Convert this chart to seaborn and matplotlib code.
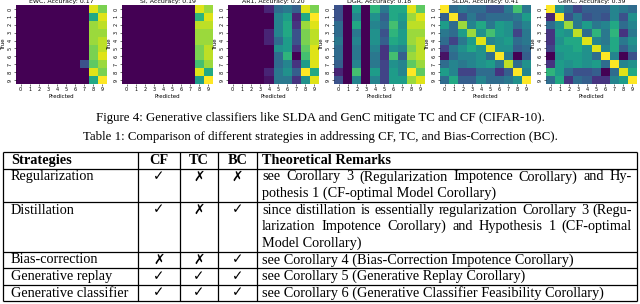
import numpy as np
import seaborn as sns
import matplotlib
matplotlib.use("Agg")
import matplotlib.pyplot as plt

# confusion matrices (normalised 0..1, rows = true, cols = predicted)
methods = ["EWC", "SI", "AR1", "DGR", "SLDA", "GenC"]
accuracies = [0.17, 0.19, 0.20, 0.18, 0.41, 0.39]
class_labels = list(range(10))

ewc_cm = [
    [0, 0, 0, 0, 0, 0, 0, 0, 0.95, 0.80],
    [0, 0, 0, 0, 0, 0, 0, 0, 0.60, 0.95],
    [0, 0, 0, 0, 0, 0, 0, 0, 0.85, 0.90],
    [0, 0, 0, 0, 0, 0, 0, 0, 0.85, 0.85],
    [0, 0, 0, 0, 0, 0, 0, 0, 0.85, 0.90],
    [0, 0, 0, 0, 0, 0, 0, 0, 0.80, 0.90],
    [0, 0, 0, 0, 0, 0, 0, 0, 0.80, 0.95],
    [0, 0, 0, 0, 0, 0, 0, 0.25, 0.75, 0.85],
    [0, 0, 0, 0, 0, 0, 0, 0, 0.95, 0.80],
    [0, 0, 0, 0, 0, 0, 0, 0, 0.60, 1.00],
]
si_cm = [
    [0, 0, 0, 0, 0, 0, 0, 0, 0.95, 0.85],
    [0, 0, 0, 0, 0, 0, 0, 0, 0.65, 0.95],
    [0, 0, 0, 0, 0, 0, 0, 0, 0.90, 0.90],
    [0, 0, 0, 0, 0, 0, 0, 0, 0.85, 0.85],
    [0, 0, 0, 0, 0, 0, 0, 0, 0.85, 0.85],
    [0, 0, 0, 0, 0, 0, 0, 0, 0.80, 0.90],
    [0, 0, 0, 0, 0, 0, 0, 0, 0.80, 0.90],
    [0, 0, 0, 0, 0, 0, 0, 0, 0.70, 0.85],
    [0, 0, 0, 0, 0, 0, 0, 0, 0.95, 0.60],
    [0, 0, 0, 0, 0, 0, 0, 0, 0.55, 1.00],
]
ar1_cm = [
    [0, 0, 0, 0, 0.10, 0.35, 0.40, 0.30, 0.95, 0.80],
    [0, 0, 0, 0, 0.00, 0.45, 0.55, 0.10, 0.60, 1.00],
    [0, 0, 0, 0, 0.00, 0.45, 0.60, 0.15, 0.85, 0.95],
    [0, 0, 0, 0, 0.10, 0.45, 0.60, 0.25, 0.80, 0.90],
    [0, 0, 0, 0, 0.10, 0.35, 0.55, 0.25, 0.80, 0.90],
    [0, 0, 0, 0, 0.00, 0.50, 0.55, 0.15, 0.75, 0.95],
    [0, 0, 0, 0, 0.00, 0.35, 0.65, 0.00, 0.70, 0.95],
    [0, 0, 0, 0, 0.00, 0.35, 0.45, 0.15, 0.55, 0.95],
    [0, 0, 0, 0, 0.10, 0.40, 0.50, 0.30, 1.00, 0.60],
    [0, 0, 0, 0, 0.05, 0.40, 0.40, 0.15, 0.50, 0.95],
]
dgr_cm = [
    [0.25, 0, 0.55, 0, 0.65, 0.40, 0.60, 0.60, 0.95, 0.75],
    [0.25, 0, 0.45, 0, 0.50, 0.30, 0.60, 0.55, 0.85, 0.95],
    [0.35, 0, 0.60, 0, 0.45, 0.35, 0.70, 0.50, 0.90, 0.90],
    [0.35, 0, 0.40, 0, 0.50, 0.25, 0.65, 0.55, 0.85, 0.85],
    [0.40, 0, 0.45, 0, 0.50, 0.30, 0.60, 0.55, 0.85, 0.90],
    [0.35, 0, 0.40, 0, 0.45, 0.15, 0.50, 0.45, 0.80, 0.90],
    [0.35, 0, 0.40, 0, 0.40, 0.15, 0.70, 0.30, 0.85, 0.90],
    [0.30, 0, 0.45, 0, 0.40, 0.20, 0.50, 0.45, 0.75, 0.85],
    [0.10, 0, 0.70, 0, 0.55, 0.20, 0.55, 0.45, 1.00, 0.75],
    [0.25, 0, 0.45, 0, 0.45, 0.20, 0.55, 0.55, 0.85, 0.95],
]
slda_cm = [
    [1.00, 0.35, 0.40, 0.35, 0.35, 0.25, 0.25, 0.40, 0.70, 0.40],
    [0.30, 1.00, 0.25, 0.40, 0.30, 0.35, 0.35, 0.35, 0.40, 0.55],
    [0.55, 0.35, 0.85, 0.45, 0.60, 0.40, 0.55, 0.50, 0.35, 0.45],
    [0.40, 0.35, 0.55, 0.85, 0.50, 0.70, 0.55, 0.50, 0.20, 0.40],
    [0.35, 0.20, 0.40, 0.55, 0.95, 0.45, 0.50, 0.55, 0.35, 0.40],
    [0.20, 0.40, 0.50, 0.60, 0.50, 0.95, 0.50, 0.50, 0.30, 0.35],
    [0.05, 0.35, 0.45, 0.45, 0.50, 0.35, 1.00, 0.40, 0.00, 0.30],
    [0.35, 0.45, 0.40, 0.45, 0.50, 0.55, 0.40, 0.90, 0.35, 0.50],
    [0.55, 0.45, 0.20, 0.20, 0.35, 0.35, 0.15, 0.30, 1.00, 0.45],
    [0.35, 0.60, 0.30, 0.30, 0.45, 0.35, 0.35, 0.40, 0.50, 1.00],
]
genc_cm = [
    [1.00, 0.50, 0.35, 0.20, 0.30, 0.30, 0.30, 0.45, 0.40, 0.35],
    [0.10, 1.00, 0.25, 0.40, 0.25, 0.30, 0.25, 0.45, 0.25, 0.50],
    [0.35, 0.50, 0.85, 0.40, 0.55, 0.40, 0.45, 0.60, 0.35, 0.45],
    [0.15, 0.55, 0.50, 0.90, 0.35, 0.65, 0.40, 0.65, 0.15, 0.40],
    [0.15, 0.50, 0.60, 0.60, 0.95, 0.45, 0.40, 0.60, 0.40, 0.50],
    [0.20, 0.55, 0.55, 0.60, 0.50, 0.95, 0.45, 0.60, 0.30, 0.45],
    [0.00, 0.50, 0.55, 0.55, 0.50, 0.35, 1.00, 0.45, 0.00, 0.25],
    [0.15, 0.55, 0.50, 0.55, 0.50, 0.55, 0.35, 1.00, 0.45, 0.50],
    [0.65, 0.55, 0.35, 0.25, 0.25, 0.30, 0.00, 0.35, 0.95, 0.60],
    [0.35, 0.60, 0.15, 0.35, 0.30, 0.15, 0.15, 0.45, 0.55, 1.00],
]
matrices = [ewc_cm, si_cm, ar1_cm, dgr_cm, slda_cm, genc_cm]

figure_caption = "Figure 4: Generative classifiers like SLDA and GenC mitigate TC and CF (CIFAR-10)."
table_caption = "Table 1: Comparison of different strategies in addressing CF, TC, and Bias-Correction (BC)."

table_header = ["Strategies", "CF", "TC", "BC", "Theoretical Remarks"]
strategies = ["Regularization", "Distillation", "Bias-correction",
              "Generative replay", "Generative classifier"]
cf_marks = ["\u2713", "\u2713", "\u2717", "\u2713", "\u2713"]
tc_marks = ["\u2717", "\u2717", "\u2717", "\u2713", "\u2713"]
bc_marks = ["\u2717", "\u2713", "\u2713", "\u2713", "\u2713"]
remarks = [
    ["see Corollary 3 (Regularization Impotence Corollary) and Hy-",
     "pothesis 1 (CF-optimal Model Corollary)"],
    ["since distillation is essentially regularization Corollary 3 (Regu-",
     "larization Impotence Corollary) and Hypothesis 1 (CF-optimal",
     "Model Corollary)"],
    ["see Corollary 4 (Bias-Correction Impotence Corollary)"],
    ["see Corollary 5 (Generative Replay Corollary)"],
    ["see Corollary 6 (Generative Classifier Feasibility Corollary)"],
]

W, H = 640, 304
fig = plt.figure(figsize=(W / 100, H / 100), dpi=100)


def px_axes(left, top, width, height):
    return fig.add_axes([left / W, 1 - (top + height) / H, width / W, height / H])


# --- heatmaps ---
for i, (name, acc, cm) in enumerate(zip(methods, accuracies, matrices)):
    ax = px_axes(16 + 106 * i, 5, 91, 79)
    sns.heatmap(np.array(cm), cmap="viridis", cbar=False, ax=ax,
                xticklabels=class_labels, yticklabels=class_labels)
    ax.set_title(f"{name}, Accuracy: {acc:.2f}", fontsize=4.5, pad=1.2)
    ax.set_xlabel("Predicted", fontsize=4, labelpad=1)
    ax.set_ylabel("True", fontsize=4, labelpad=1)
    ax.tick_params(labelsize=3.5, length=1.5, width=0.4, pad=1)
    plt.setp(ax.get_yticklabels(), rotation=90, va="center")
    plt.setp(ax.get_xticklabels(), rotation=0)

# --- captions and table ---
serif = ["Liberation Serif", "DejaVu Sans"]
cap_fs = 9.3
fs = 10.3
tab = fig.add_axes([0, 0, 1, 1])
tab.set_xlim(0, W)
tab.set_ylim(H, 0)
tab.axis("off")

tab.text(W / 2, 118, figure_caption, ha="center", va="center", fontsize=cap_fs, family=serif)
tab.text(W / 2, 137, table_caption, ha="center", va="center", fontsize=cap_fs, family=serif)

renderer = fig.canvas.get_renderer()


def justified(x0, x1, y, line):
    words = line.split(" ")
    widths = []
    for w in words:
        t = tab.text(0, 0, w, fontsize=fs, family=serif)
        widths.append(t.get_window_extent(renderer=renderer).width)
        t.remove()
    gap = (x1 - x0 - sum(widths)) / (len(words) - 1)
    x = x0
    for w, wd in zip(words, widths):
        tab.text(x, y, w, ha="left", va="center", fontsize=fs, family=serif)
        x += wd + gap


col_edges = [3, 138, 180, 218, 257, 637]
line_h = 16.6
top = 152
row_lines = [1] + [len(r) for r in remarks]
row_edges = [top]
for n in row_lines:
    row_edges.append(row_edges[-1] + n * line_h)

tab.hlines(row_edges, col_edges[0], col_edges[-1], color="black", lw=0.9)
tab.vlines(col_edges, row_edges[0], row_edges[-1], color="black", lw=0.9)

# header
yc = top + line_h / 2
tab.text(col_edges[0] + 8, yc, table_header[0], ha="left", va="center",
         fontsize=fs, family=serif, weight="bold")
for j in range(1, 4):
    tab.text((col_edges[j] + col_edges[j + 1]) / 2, yc, table_header[j], ha="center",
             va="center", fontsize=fs, family=serif, weight="bold")
tab.text(col_edges[4] + 5, yc, table_header[4], ha="left", va="center",
         fontsize=fs, family=serif, weight="bold")

for r, (name, cf, tc, bc, rem) in enumerate(zip(strategies, cf_marks, tc_marks, bc_marks, remarks)):
    y0 = row_edges[r + 1] + line_h / 2
    tab.text(col_edges[0] + 8, y0, name, ha="left", va="center", fontsize=fs, family=serif)
    for j, mark in zip(range(1, 4), [cf, tc, bc]):
        tab.text((col_edges[j] + col_edges[j + 1]) / 2, y0, mark, ha="center", va="center",
                 fontsize=fs - 0.5, family=serif)
    for k, line in enumerate(rem):
        yl = y0 + k * line_h
        if k < len(rem) - 1:
            justified(col_edges[4] + 5, col_edges[5] - 5, yl, line)
        else:
            tab.text(col_edges[4] + 5, yl, line, ha="left", va="center", fontsize=fs, family=serif)

fig.savefig("out.png", dpi=100)
